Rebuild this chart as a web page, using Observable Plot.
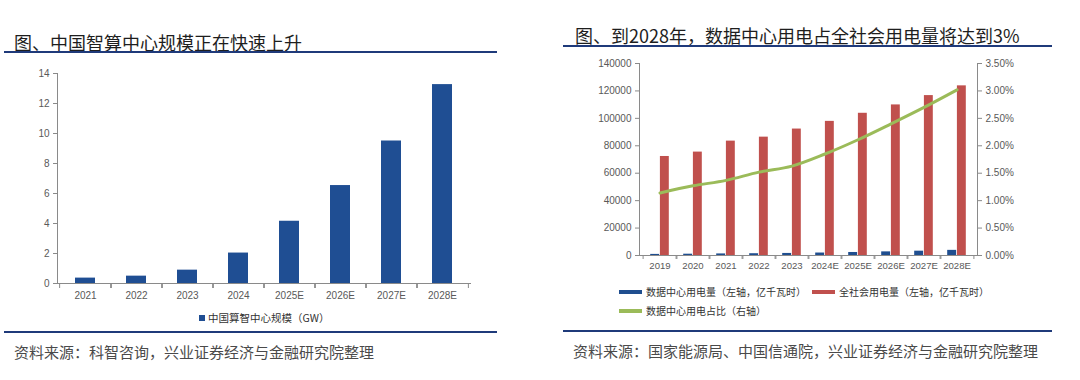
<!DOCTYPE html>
<html><head><meta charset="utf-8">
<script src="https://cdn.jsdelivr.net/npm/d3@7"></script>
<script src="https://cdn.jsdelivr.net/npm/@observablehq/plot@0.6"></script>
<style>
body{margin:0;width:1080px;height:380px;background:#fff;position:relative;overflow:hidden;font-family:"Noto Sans CJK SC","Noto Sans",sans-serif;}
.abs{position:absolute;}
.title{font-size:18px;color:#1e1e1e;line-height:20px;white-space:nowrap;}
.rule{height:2px;background:#1F3A7A;}
.src{font-size:15px;color:#4a4a4a;line-height:18px;white-space:nowrap;}
.leg{font-size:10px;color:#333;line-height:12px;white-space:nowrap;display:flex;align-items:center;}
.sw{display:inline-block;height:4px;width:23px;margin-right:4px;}
.sq{display:inline-block;height:6px;width:6px;margin-right:3px;}
svg{position:absolute;}
</style></head><body>
<div id="root"></div>
<script>
// ---- Left chart data ----
const years1 = ["2021","2022","2023","2024","2025E","2026E","2027E","2028E"];
const scale1 = [0.36, 0.49, 0.89, 2.03, 4.15, 6.53, 9.5, 13.26];
const yTicks1 = [0, 2, 4, 6, 8, 10, 12, 14];

// ---- Right chart data ----
const years2 = ["2019","2020","2021","2022","2023","2024E","2025E","2026E","2027E","2028E"];
const dcPower = [800, 950, 1150, 1300, 1500, 1800, 2200, 2650, 3150, 3750];
const totalPower = [72200, 75400, 83400, 86300, 92200, 97800, 103700, 109800, 116600, 123700];
const dcShare = [1.14, 1.27, 1.37, 1.52, 1.63, 1.85, 2.11, 2.40, 2.70, 3.02];
const yTicksLeft2 = [0, 20000, 40000, 60000, 80000, 100000, 120000, 140000];
const yTicksRight2 = [0, 0.5, 1.0, 1.5, 2.0, 2.5, 3.0, 3.5];

const root = document.getElementById("root");
function add(html){ const t=document.createElement("div"); t.innerHTML=html; const el=t.firstElementChild; root.appendChild(el); return el; }

const axisColor = "#8a8a8a";
const tickStyle = (fs) => ({fontFamily:"'Liberation Sans',Arial,sans-serif", fontSize:fs, color:"#595959", background:"transparent", overflow:"visible"});

// ===== Left panel =====
add(`<div class="abs title" style="left:14px;top:32px;">图、中国智算中心规模正在快速上升</div>`);
add(`<div class="abs rule" style="left:4px;top:51px;width:493px;"></div>`);
{
  const W=500,H=250,ml=57,mr=29,mt=18,mb=22;
  const step=(W-ml-mr)/years1.length;
  const d1 = years1.map((y,i)=>({year:y, v:scale1[i]}));
  const p = Plot.plot({
    width:W, height:H, marginLeft:ml, marginRight:mr, marginTop:mt, marginBottom:mb,
    style:tickStyle("10px"),
    x:{domain:years1, paddingInner:0.6, paddingOuter:0.3, label:null},
    y:{domain:[0,14], label:null},
    marks:[
      Plot.barY(d1,{x:"year", y:"v", fill:"#1F4E93"}),
      Plot.ruleY([0],{stroke:axisColor}),
      Plot.frame({anchor:"left", stroke:axisColor}),
      Plot.axisY(yTicks1,{tickSize:4, tickPadding:4, stroke:axisColor, label:null}),
      Plot.axisX({tickSize:0, tickPadding:8, label:null}),
      Plot.axisX({tickSize:5, tickFormat:()=>"", dx:step/2, stroke:axisColor, label:null}),
      Plot.axisX({tickSize:5, tickFormat:()=>"", dx:-step/2, stroke:axisColor, label:null})
    ]
  });
  p.style.left="0px"; p.style.top="55px";
  root.appendChild(p);
}
add(`<div class="abs leg" style="left:199px;top:312px;font-size:10.5px;"><span class="sq" style="background:#1F4E93"></span>中国算智中心规模（GW）</div>`);
add(`<div class="abs rule" style="left:4px;top:331px;width:493px;"></div>`);
add(`<div class="abs src" style="left:14px;top:343px;">资料来源：科智咨询，兴业证券经济与金融研究院整理</div>`);

// ===== Right panel =====
add(`<div class="abs title" style="left:575px;top:25px;">图、到2028年，数据中心用电占全社会用电量将达到3%</div>`);
add(`<div class="abs rule" style="left:563px;top:45px;width:489px;"></div>`);
{
  const W=540,H=230,ml=99,mr=103,mt=13,mb=25;
  const step=(W-ml-mr)/years2.length;
  const barW=9.7, yMax=140000, pMax=3.5;
  const d2 = years2.map((y,i)=>({year:y, dc:dcPower[i], total:totalPower[i], share:dcShare[i]}));
  const p = Plot.plot({
    width:W, height:H, marginLeft:ml, marginRight:mr, marginTop:mt, marginBottom:mb,
    style:tickStyle("9.6px"),
    x:{domain:years2, padding:0, label:null},
    y:{domain:[0,yMax], label:null},
    marks:[
      Plot.barY(d2,{x:"year", y:"dc", fill:"#1F4E8F", insetLeft:step/2-barW, insetRight:step/2}),
      Plot.barY(d2,{x:"year", y:"total", fill:"#C0504D", insetLeft:step/2, insetRight:step/2-barW}),
      Plot.line(d2,{x:"year", y:d=>d.share/pMax*yMax, stroke:"#9BBB59", strokeWidth:3, curve:"monotone-x"}),
      Plot.ruleY([0],{stroke:axisColor}),
      Plot.frame({anchor:"left", stroke:axisColor}),
      Plot.frame({anchor:"right", stroke:axisColor}),
      Plot.axisY(yTicksLeft2,{anchor:"left", tickSize:4, tickPadding:4, stroke:axisColor, tickFormat:d=>String(d), label:null, fontSize:"10px"}),
      Plot.axisY(yTicksRight2.map(v=>v/pMax*yMax),{anchor:"right", tickSize:4, tickPadding:4, stroke:axisColor, tickFormat:v=>(v/yMax*pMax).toFixed(2)+"%", label:null, fontSize:"10px"}),
      Plot.axisX({tickSize:0, tickPadding:7, label:null}),
      Plot.axisX({tickSize:4, tickFormat:()=>"", dx:step/2, stroke:axisColor, label:null}),
      Plot.axisX({tickSize:4, tickFormat:()=>"", dx:-step/2, stroke:axisColor, label:null})
    ]
  });
  p.style.left="540px"; p.style.top="50px";
  root.appendChild(p);
}
add(`<div class="abs leg" style="left:619px;top:286px;"><span class="sw" style="background:#1F4E8F"></span>数据中心用电量（左轴，亿千瓦时）<span class="sw" style="background:#C0504D;margin-left:6px"></span>全社会用电量（左轴，亿千瓦时）</div>`);
add(`<div class="abs leg" style="left:619px;top:305px;"><span class="sw" style="background:#9BBB59"></span>数据中心用电占比（右轴）</div>`);
add(`<div class="abs rule" style="left:563px;top:330px;width:489px;"></div>`);
add(`<div class="abs src" style="left:573px;top:342px;">资料来源：国家能源局、中国信通院，兴业证券经济与金融研究院整理</div>`);
</script>
</body></html>
